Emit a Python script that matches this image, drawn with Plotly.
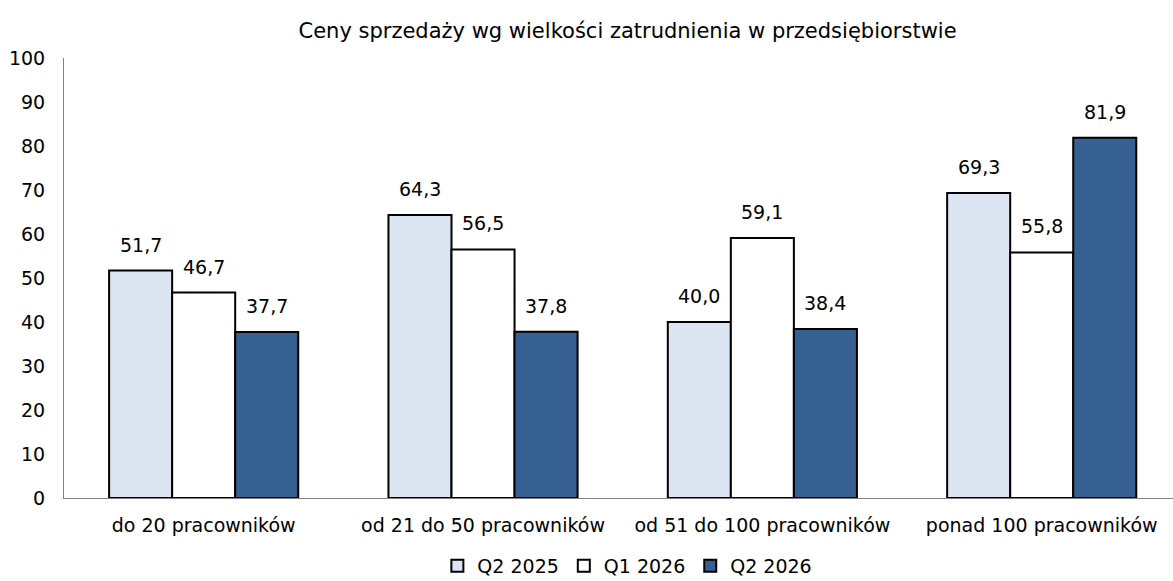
import plotly.graph_objects as go

categories = ["do 20 pracowników", "od 21 do 50 pracowników",
              "od 51 do 100 pracowników", "ponad 100 pracowników"]
q2_2025 = [51.7, 64.3, 40.0, 69.3]
q1_2026 = [46.7, 56.5, 59.1, 55.8]
q2_2026 = [37.7, 37.8, 38.4, 81.9]
series_names = ["Q2 2025", "Q1 2026", "Q2 2026"]
series_colors = ["#DCE6F2", "#FFFFFF", "#376092"]

FONT = "DejaVu Sans, sans-serif"
BARGAP = 0.323

fig = go.Figure()
all_series = [q2_2025, q1_2026, q2_2026]
for name, vals, col in zip(series_names, all_series, series_colors):
    fig.add_trace(go.Bar(
        x=categories, y=vals, name=name,
        marker=dict(color=col, line=dict(color="#000000", width=2)),
    ))

# value labels above each bar
bar_w = (1 - BARGAP) / len(all_series)
for si, vals in enumerate(all_series):
    off = (si - (len(all_series) - 1) / 2) * bar_w
    for ci, v in enumerate(vals):
        fig.add_annotation(
            x=ci + off, y=v, xref="x", yref="y",
            text=f"{v:.1f}".replace(".", ","),
            showarrow=False, yanchor="bottom", yshift=13,
            font=dict(family=FONT, size=19, color="#000000"),
        )

fig.update_layout(
    width=1173, height=581,
    margin=dict(l=64, r=0, t=58, b=83, autoexpand=False),
    paper_bgcolor="white", plot_bgcolor="white",
    barmode="group", bargap=BARGAP, bargroupgap=0,
    font=dict(family=FONT, size=19, color="#000000"),
    title=dict(text="Ceny sprzedaży wg wielkości zatrudnienia w przedsiębiorstwie",
               x=0.535, xanchor="center", y=0.948, yanchor="middle",
               font=dict(family=FONT, size=21, color="#000000")),
    legend=dict(orientation="h", x=0.508, xanchor="center",
                yref="container", y=0.026, yanchor="middle",
                font=dict(family=FONT, size=19), itemwidth=30, tracegroupgap=0),
    showlegend=True,
)
fig.update_xaxes(type="category", range=[-0.5, 3.47], showline=True,
                 linecolor="#808080", linewidth=1, ticks="", showgrid=False,
                 ticklabelstandoff=10, tickfont=dict(family=FONT, size=19))
fig.update_yaxes(range=[0, 100], dtick=10, showline=True, linecolor="#808080",
                 linewidth=1, ticks="", showgrid=False, zeroline=False,
                 ticklabelstandoff=14, tickfont=dict(family=FONT, size=19))

fig.write_html("out.html")
